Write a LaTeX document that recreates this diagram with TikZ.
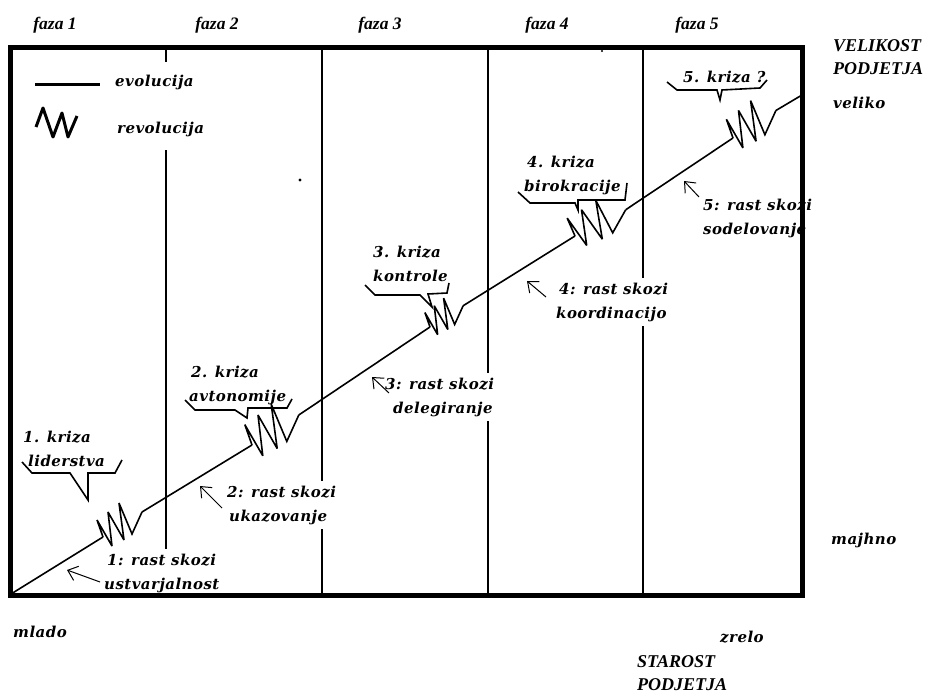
\documentclass[tikz,border=0pt]{standalone}
\usepackage{fontspec}
\setmainfont{DejaVu Serif}
\newfontfamily\lblfont[LetterSpace=3]{DejaVu Serif}
\newfontfamily\narrowfont{Liberation Serif}
\usetikzlibrary{arrows.meta}
\tikzset{
  frame/.style={line width=4.8pt},
  phase/.style={line width=1.1pt},
  mainline/.style={line width=1.6pt},
  zigline/.style={line width=1.6pt, line join=miter, miter limit=4},
  brk/.style={line width=1.6pt, line join=miter},
  legline/.style={line width=3pt},
  legzig/.style={line width=3pt, line join=round},
  arr/.style={line width=1pt, -{Straight Barb[length=9pt,width=15pt]}},
  lbl/.style={font=\lblfont\bfseries\itshape\fontsize{15}{24}\selectfont, align=left, anchor=west, inner sep=1pt},
  caplbl/.style={lbl, font=\narrowfont\bfseries\itshape\fontsize{18}{23}\selectfont},
  fazalbl/.style={font=\narrowfont\bfseries\itshape\fontsize{17.5}{18}\selectfont, inner sep=1pt},
  boxed/.style={lbl, fill=white, inner xsep=2pt, inner ysep=5pt},
  zig/.pic={
    \coordinate (-s) at (0,0);
    \draw[zigline] (0,0) -- (-6,-17) -- (9,9) -- (5,-25) -- (21,3) -- (16,-34) -- (29,-3) -- (39,-25);
    \coordinate (-e) at (39,-25);
  }
}
\begin{document}
\begin{tikzpicture}[x=1pt,y=-1pt]
\useasboundingbox (0,0) rectangle (938,695);

% phase separators
\foreach \x/\n in {166/1,322/2,488/3,643/4}{
  \coordinate (pt\n) at (\x,48);
  \coordinate (pb\n) at (\x,595);
  \draw[phase] (pt\n) -- (pb\n);
}

% main growth line with revolutions
\coordinate (o) at (11,594);
\coordinate (rt) at (802,95);
\pic (z1) at (103,537) {zig};
\pic[scale=1.2] (z2) at (252,445) {zig};
\pic[scale=0.85] (z3) at (430,327) {zig};
\pic[xscale=1.3, yscale=1.05] (z4) at (575,236) {zig};
\pic[scale=1.1] (z5) at (733,138) {zig};
\draw[mainline] (o) -- (z1-s) (z1-e) -- (z2-s) (z2-e) -- (z3-s) (z3-e) -- (z4-s) (z4-e) -- (z5-s) (z5-e) -- (rt);

% stray dots
\fill (300,180) circle (1.6);
\fill (602,51) circle (1.1);

% legend
\coordinate (ev1) at (35,85);
\coordinate (ev2) at (100,85);
\draw[legline] (ev1) -- (ev2);
\draw[legzig] (36,127) -- (43,108) -- (53,137) -- (62,113) -- (68,137) -- (77,116);
\node[boxed, inner ysep=13pt] (leg) at (113,106) {evolucija\\[23pt]\hspace*{2pt}revolucija};

% phase labels
\node[fazalbl] (f1) at (55,25) {faza 1};
\node[fazalbl] (f2) at (217,25) {faza 2};
\node[fazalbl] (f3) at (380,25) {faza 3};
\node[fazalbl] (f4) at (547,25) {faza 4};
\node[fazalbl] (f5) at (697,25) {faza 5};

% axis labels
\node[caplbl] (vel) at (832,57) {VELIKOST\\PODJETJA};
\node[lbl] (veliko) at (832,103) {veliko};
\node[lbl] (majhno) at (830,540) {majhno};
\node[lbl] (mlado) at (12,632) {mlado};
\node[lbl] (zrelo) at (719,637) {zrelo};
\node[caplbl] (star) at (636,673) {STAROST\\PODJETJA};

% crisis labels
\node[lbl] (c1) at (22,449) {1. kriza\\\hspace*{5pt}liderstva};
\node[lbl] (c2) at (188,385) {\hspace*{2pt}2. kriza\\avtonomije};
\node[lbl] (c3) at (372,264) {3. kriza\\kontrole};
\node[lbl] (c4) at (523,175) {\hspace*{3pt}4. kriza\\birokracije};
\node[lbl] (c5) at (682,77) {5. kriza ?};

% crisis callout brackets
\draw[brk] (22,462) -- (32,473) -- (70,473) -- (88,500) -- (88,473) -- (115,473) -- (122,460);
\draw[brk] (185,400) -- (195,410) -- (235,410) -- (247,418) -- (248,408) -- (287,408) -- (292,399);
\draw[brk] (365,285) -- (375,295) -- (420,295) -- (432,307) -- (428,294) -- (447,293) -- (449,283);
\draw[brk] (518,192) -- (530,203) -- (575,203) -- (578,210) -- (578,200) -- (625,200) -- (627,183);
\draw[brk] (667,82) -- (677,90) -- (717,90) -- (720,100) -- (722,90) -- (760,88) -- (767,80);

% growth labels
\node[boxed] (g1) at (102,573) {\hspace*{3pt}1: rast skozi\\ustvarjalnost};
\node[boxed] (g2) at (225,505) {2: rast skozi\\\hspace*{2pt}ukazovanje};
\node[boxed] (g3) at (383,397) {3: rast skozi\\\hspace*{8pt}delegiranje};
\node[boxed] (g4) at (554,302) {\hspace*{3pt}4: rast skozi\\koordinacijo};
\node[boxed] (g5) at (701,218) {5: rast skozi\\sodelovanje};

% arrows
\coordinate (a1t) at (100,582); \coordinate (a1h) at (67,570);
\coordinate (a2t) at (222,508); \coordinate (a2h) at (200,486);
\coordinate (a3t) at (389,393); \coordinate (a3h) at (372,377);
\coordinate (a4t) at (546,297); \coordinate (a4h) at (527,281);
\coordinate (a5t) at (699,197); \coordinate (a5h) at (684,181);
\draw[arr] (a1t) -- (a1h);
\draw[arr] (a2t) -- (a2h);
\draw[arr] (a3t) -- (a3h);
\draw[arr] (a4t) -- (a4h);
\draw[arr] (a5t) -- (a5h);

% frame
\coordinate (fa) at (10.5,47.5);
\coordinate (fb) at (802.5,595.5);
\draw[frame] (fa) rectangle (fb);
\end{tikzpicture}
\end{document}
